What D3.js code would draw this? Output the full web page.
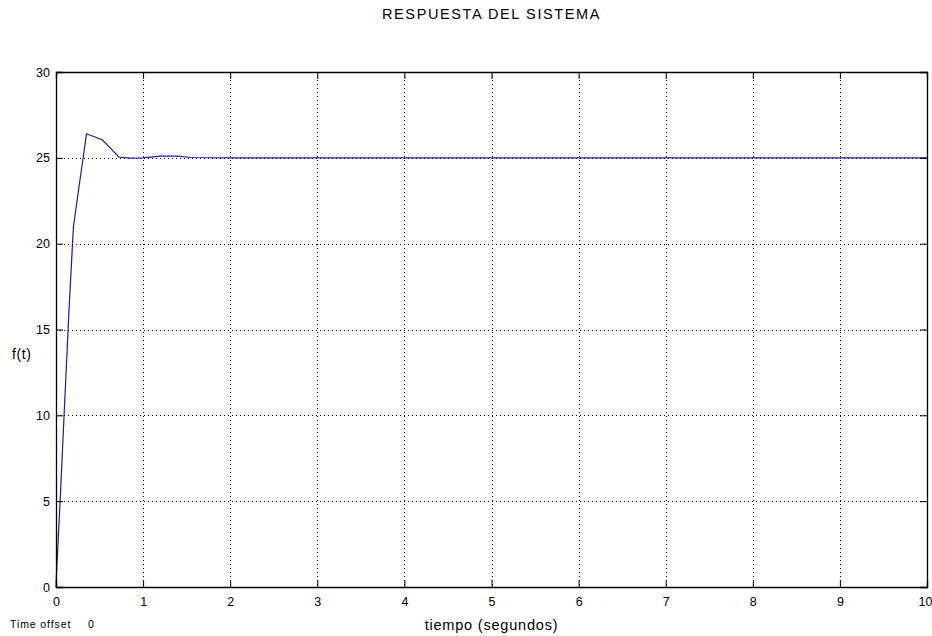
<!DOCTYPE html>
<html>
<head>
<meta charset="utf-8">
<script src="https://cdn.jsdelivr.net/npm/d3@7/dist/d3.min.js"></script>
<style>
  html, body { margin: 0; padding: 0; background: #fff; }
  svg { display: block; }
  text { font-family: "Liberation Sans", Arial, Helvetica, sans-serif; fill: #000; }
</style>
</head>
<body>
<svg id="chart" width="932" height="636"></svg>
<script>
// System step response samples: time (s) and output f(t)
const timeValues = [0, 0.005, 0.05, 0.1, 0.15, 0.2, 0.35, 0.53, 0.6, 0.72, 0.85, 1.0, 1.2, 1.4, 1.55, 2, 3, 4, 5, 6, 7, 8, 9, 10];
const responseValues = [0, 0.7, 5.3, 10.8, 16.2, 21.0, 26.4, 26.05, 25.7, 25.05, 24.98, 25.0, 25.1, 25.1, 25.02, 25, 25, 25, 25, 25, 25, 25, 25, 25];
const xTicks = [0, 1, 2, 3, 4, 5, 6, 7, 8, 9, 10];
const yTicks = [0, 5, 10, 15, 20, 25, 30];

const svg = d3.select("#chart");
const plot = { left: 56, right: 927, top: 72, bottom: 587 };

const x = d3.scaleLinear().domain([0, 10]).range([plot.left, plot.right]);
const y = d3.scaleLinear().domain([0, 30]).range([plot.bottom, plot.top]);

// Dotted grid
const grid = svg.append("g").attr("stroke", "#000").attr("stroke-width", 1)
  .attr("stroke-dasharray", "1,3").attr("shape-rendering", "crispEdges");
grid.selectAll("line.gx").data(xTicks.slice(1, -1)).join("line")
  .attr("x1", d => Math.round(x(d)) + 0.5).attr("x2", d => Math.round(x(d)) + 0.5)
  .attr("y1", plot.top).attr("y2", plot.bottom);
grid.selectAll("line.gy").data(yTicks.slice(1, -1)).join("line")
  .attr("y1", d => Math.round(y(d)) + 0.5).attr("y2", d => Math.round(y(d)) + 0.5)
  .attr("x1", plot.left).attr("x2", plot.right);

// Response curve
const line = d3.line().x((d, i) => x(timeValues[i])).y(d => y(d));
svg.append("path").datum(responseValues)
  .attr("d", line)
  .attr("fill", "none")
  .attr("stroke", "#1c1c9c")
  .attr("stroke-width", 1.2);

// Axes with inward ticks on all four sides
const tickLen = 7;
const axisBottom = d3.axisBottom(x).tickValues(xTicks).tickSize(-tickLen).tickPadding(10).tickFormat(d3.format("d"));
const axisTop = d3.axisTop(x).tickValues(xTicks).tickSize(-tickLen).tickFormat("");
const axisLeft = d3.axisLeft(y).tickValues(yTicks).tickSize(-tickLen).tickPadding(6).tickFormat(d3.format("d"));
const axisRight = d3.axisRight(y).tickValues(yTicks).tickSize(-tickLen).tickFormat("");

function styleAxis(g) {
  g.select(".domain").attr("stroke", "#000").attr("stroke-width", 1.3);
  g.selectAll(".tick line").attr("stroke", "#000");
  g.selectAll(".tick text").attr("font-size", 12.5).attr("fill", "#000")
    .attr("font-family", "'Liberation Sans', Arial, sans-serif");
  g.attr("font-family", null);
}

const gBottom = svg.append("g").attr("transform", `translate(0,${plot.bottom})`).call(axisBottom).call(styleAxis);
// keep the last tick label inside the page edge
gBottom.selectAll(".tick text").filter(d => d === 10).attr("text-anchor", "end").attr("dx", 5);
svg.append("g").attr("transform", `translate(0,${plot.top})`).call(axisTop).call(styleAxis);
svg.append("g").attr("transform", `translate(${plot.left},0)`).call(axisLeft).call(styleAxis);
svg.append("g").attr("transform", `translate(${plot.right},0)`).call(axisRight).call(styleAxis);

// Titles and labels
svg.append("text").attr("x", (plot.left + plot.right) / 2).attr("y", 19)
  .attr("text-anchor", "middle").attr("font-size", 14.5).attr("letter-spacing", 1.6)
  .text("RESPUESTA DEL SISTEMA");

svg.append("text").attr("x", (plot.left + plot.right) / 2).attr("y", 630)
  .attr("text-anchor", "middle").attr("font-size", 14.5).attr("letter-spacing", 0.8)
  .text("tiempo (segundos)");

svg.append("text").attr("x", 12).attr("y", 359)
  .attr("font-size", 14).attr("letter-spacing", 0.6)
  .text("f(t)");

svg.append("text").attr("x", 10).attr("y", 628)
  .attr("font-size", 10.5).attr("letter-spacing", 0.9)
  .text("Time offset");
svg.append("text").attr("x", 88).attr("y", 628)
  .attr("font-size", 10.5)
  .text("0");
</script>
</body>
</html>
